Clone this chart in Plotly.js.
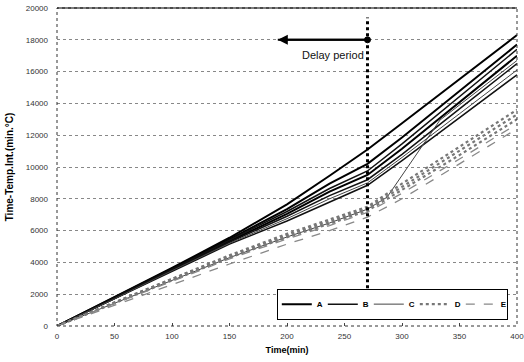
<!DOCTYPE html>
<html>
<head>
<meta charset="utf-8">
<script src="https://cdn.plot.ly/plotly-3.0.1.min.js"></script>
<style>html,body{margin:0;padding:0;background:#fff;}#chart{width:524px;height:362px;}</style>
</head>
<body>
<div id="chart"></div>
<script>
// Time axis (min) used by most specimens
const timeMin = [0, 50, 100, 150, 200, 237, 270, 300, 350, 400];
// Specimen with a late jump has its own sampling
const timeMinC2 = [0, 50, 100, 150, 200, 237, 270, 287, 333, 350, 400];

// Series A (upper group)
const A1 = [0, 1800, 3650, 5550, 7650, 9450, 11100, 12750, 15500, 18300];
const A2 = [0, 1780, 3600, 5450, 7350, 8950, 10200, 11850, 14750, 17700];
const A3 = [0, 1740, 3530, 5330, 7050, 8450, 9500, 11150, 14050, 17000];
// Series B (upper group)
const B1 = [0, 1760, 3570, 5400, 7200, 8650, 9750, 11450, 14400, 17400];
const B2 = [0, 1720, 3500, 5270, 6900, 8200, 9200, 10800, 13650, 16500];
const B3 = [0, 1700, 3450, 5150, 6600, 7800, 8850, 10400, 13100, 15800];
// Series C
const C1 = [0, 1710, 3480, 5200, 6750, 8000, 9000, 10600, 13350, 16100];
const C2 = [0, 1450, 2900, 4300, 5600, 6480, 7350, 8100, 12950, 13900, 16700];
// Series D (lower group)
const D1 = [0, 1500, 3000, 4450, 5800, 6700, 7500, 8950, 11250, 13600];
const D2 = [0, 1480, 2950, 4380, 5700, 6580, 7400, 8750, 11000, 13300];
const D3 = [0, 1450, 2900, 4300, 5580, 6430, 7250, 8550, 10750, 13000];
// Series E (lower group)
const E1 = [0, 1420, 2850, 4220, 5480, 6320, 7150, 8350, 10500, 12700];
const E2 = [0, 1300, 2600, 3900, 5150, 6000, 6850, 8000, 10200, 12400];

const seriesNames = ['A', 'B', 'C', 'D', 'E'];
const yTicks = [0, 2000, 4000, 6000, 8000, 10000, 12000, 14000, 16000, 18000, 20000];
const xTicks = [0, 50, 100, 150, 200, 250, 300, 350, 400];

// Delay period marker
const delayTime = 270;
const delayStart = 192;
const delayLevel = 18000;
const delayLineRange = [2000, 19400];

function tr(x, y, name, line, show) {
  return {x: x, y: y, type: 'scatter', mode: 'lines', name: name, legendgroup: name,
          showlegend: show, line: line, hoverinfo: 'skip'};
}

const styA = {color: '#000', width: 2};
const styB = {color: '#111', width: 1.5};
const styC = {color: '#444', width: 1};
const styD = {color: '#777', width: 2.2, dash: 'dot'};
const styE = {color: '#888', width: 1.3, dash: 'dash'};

const data = [
  tr(timeMin, A1, seriesNames[0], styA, true),
  tr(timeMin, A2, seriesNames[0], styA, false),
  tr(timeMin, A3, seriesNames[0], styA, false),
  tr(timeMin, B1, seriesNames[1], styB, true),
  tr(timeMin, B2, seriesNames[1], styB, false),
  tr(timeMin, B3, seriesNames[1], styB, false),
  tr(timeMin, C1, seriesNames[2], styC, true),
  tr(timeMinC2, C2, seriesNames[2], styC, false),
  tr(timeMin, D1, seriesNames[3], styD, true),
  tr(timeMin, D2, seriesNames[3], styD, false),
  tr(timeMin, D3, seriesNames[3], styD, false),
  tr(timeMin, E1, seriesNames[4], styE, true),
  tr(timeMin, E2, seriesNames[4], styE, false)
];

const tickFont = {family: 'Liberation Sans, Arial, sans-serif', size: 8, color: '#333'};

const layout = {
  width: 524, height: 362,
  margin: {l: 57, r: 7, t: 8, b: 36, autoexpand: false},
  paper_bgcolor: '#fff', plot_bgcolor: '#fff',
  showlegend: true,
  legend: {
    orientation: 'h', x: 0.98, y: 0.02, xanchor: 'right', yanchor: 'bottom',
    bordercolor: '#000', borderwidth: 1, bgcolor: '#fff',
    font: {family: 'Liberation Sans, Arial, sans-serif', size: 8, color: '#000', weight: 'bold'},
    entrywidth: 1, entrywidthmode: 'pixels', tracegroupgap: 0, itemwidth: 30
  },
  xaxis: {
    range: [0, 400], tickvals: xTicks, ticktext: xTicks.map(String),
    showgrid: false, zeroline: false, showline: false,
    ticks: 'inside', ticklen: 3, tickcolor: '#444',
    tickfont: tickFont, ticklabelstandoff: 4, ticklabeloverflow: 'allow',
    title: {text: 'Time(min)', font: {family: 'Liberation Sans, Arial, sans-serif', size: 9, color: '#000', weight: 'bold'}, standoff: 6}
  },
  yaxis: {
    range: [0, 20000], tickvals: yTicks, ticktext: yTicks.map(String),
    showgrid: true, gridcolor: '#888', griddash: 'dot', gridwidth: 1,
    zeroline: false, showline: false, ticks: '',
    tickfont: tickFont, ticklabelstandoff: 8, ticklabeloverflow: 'allow',
    title: {text: 'Time-Temp.Int.(min.°C)', font: {family: 'Liberation Sans, Arial, sans-serif', size: 10, color: '#000', weight: 'bold'}, standoff: 10}
  },
  shapes: [
    {type: 'rect', xref: 'paper', yref: 'paper', x0: 0, x1: 1, y0: 0, y1: 1,
     line: {color: '#333', width: 1, dash: 'dot'}},
    {type: 'line', xref: 'paper', yref: 'paper', x0: 0, x1: 1, y0: 1, y1: 1,
     line: {color: '#000', width: 1.2}},
    {type: 'line', xref: 'x', yref: 'y', x0: delayTime, x1: delayTime,
     y0: delayLineRange[0], y1: delayLineRange[1],
     line: {color: '#000', width: 3, dash: 'dot'}},
    {type: 'line', xref: 'x', yref: 'y', x0: delayStart, x1: delayTime,
     y0: delayLevel, y1: delayLevel, line: {color: '#000', width: 2}},
    {type: 'circle', xref: 'x', yref: 'y', xsizemode: 'pixel', ysizemode: 'pixel',
     xanchor: delayTime, yanchor: delayLevel, x0: -3, x1: 3, y0: -3, y1: 3,
     fillcolor: '#000', line: {color: '#000', width: 1}}
  ],
  annotations: [
    {x: delayStart, y: delayLevel, xref: 'x', yref: 'y', ax: delayTime, ay: delayLevel,
     axref: 'x', ayref: 'y', text: '', showarrow: true, arrowhead: 2, arrowsize: 1,
     arrowwidth: 2, arrowcolor: '#000', standoff: 0},
    {x: delayTime - 1, y: 17050, xref: 'x', yref: 'y', xanchor: 'right', yanchor: 'middle',
     text: 'Delay period', showarrow: false,
     font: {family: 'Liberation Sans, Arial, sans-serif', size: 11, color: '#111'}}
  ]
};

Plotly.newPlot('chart', data, layout, {displayModeBar: false, staticPlot: true});
</script>
</body>
</html>
